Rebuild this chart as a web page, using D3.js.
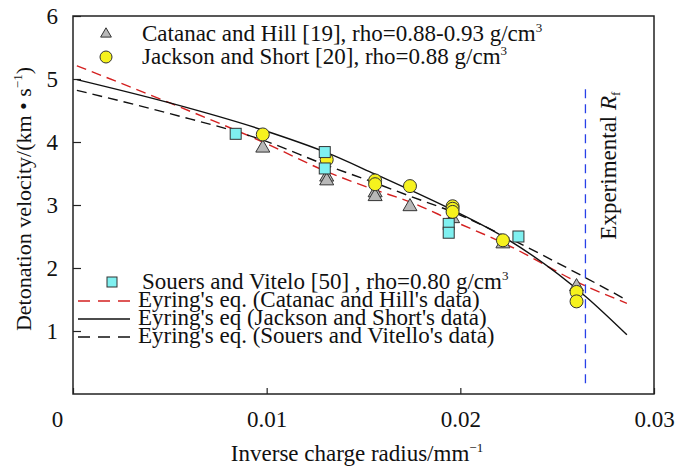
<!DOCTYPE html>
<html>
<head>
<meta charset="utf-8">
<script src="https://cdn.jsdelivr.net/npm/d3@7"></script>
<style>
body { margin: 0; background: #fff; }
svg text { font-family: "Liberation Serif", "DejaVu Serif", serif; fill: #111; }
</style>
</head>
<body>
<div id="chart"></div>
<script>
var w = 675;
var h = 466;
var serif = "'Liberation Serif', 'DejaVu Serif', serif";

// tick values
var xTicks = [0, 0.01, 0.02, 0.03];
var yTicks = [1, 2, 3, 4, 5, 6];

// measured points
var catanacX = [0.0098, 0.0131, 0.0131, 0.0156, 0.0156, 0.0174, 0.0196, 0.0222, 0.0260];
var catanacY = [3.92, 3.46, 3.40, 3.21, 3.15, 2.99, 2.80, 2.40, 1.72];
var jacksonX = [0.0098, 0.0131, 0.0156, 0.0156, 0.0174, 0.0196, 0.0196, 0.0196, 0.0222, 0.0260, 0.0260];
var jacksonY = [4.12, 3.72, 3.39, 3.33, 3.30, 2.98, 2.94, 2.89, 2.44, 1.62, 1.47];
var souersX = [0.0084, 0.0130, 0.0130, 0.0194, 0.0194, 0.0230];
var souersY = [4.13, 3.84, 3.58, 2.70, 2.56, 2.50];

// Eyring fits
var fitX = [0.0002, 0.005, 0.0098, 0.0131, 0.0156, 0.0174, 0.0196, 0.0222, 0.0265, 0.0286];
var fitCatanac = [5.21, 4.62, 4.00, 3.53, 3.24, 3.05, 2.75, 2.40, 1.71, 1.44];
var fitJackson = [4.99, 4.62, 4.19, 3.83, 3.49, 3.24, 2.92, 2.50, 1.54, 0.94];
var fitSouers = [4.82, 4.45, 4.03, 3.63, 3.35, 3.14, 2.89, 2.52, 1.84, 1.49];

var rfX = 0.02646;
var rfY = [0.17, 4.86];

var x = d3.scaleLinear().domain([0, 0.03]).range([73, 654]);
var y = d3.scaleLinear().domain([0, 6]).range([394, 16]);

var svg = d3.select("#chart").append("svg")
  .attr("width", w)
  .attr("height", h);

// axes with inward ticks
var gx = svg.append("g").attr("transform", "translate(0,394)")
  .call(d3.axisBottom(x).tickValues(xTicks).tickSize(-6).tickPadding(17)
    .tickFormat(function(d) { return d === 0 ? "0" : d3.format(".2f")(d); }));
gx.selectAll("text").attr("font-size", 23);
gx.selectAll("text").filter(function(d) { return d === 0; }).attr("dx", -16);

var gy = svg.append("g").attr("transform", "translate(73,0)")
  .call(d3.axisLeft(y).tickValues(yTicks).tickSize(-8).tickPadding(15).tickFormat(d3.format("d")));
gy.selectAll("text").attr("font-size", 23);

svg.selectAll(".domain").remove();
svg.selectAll(".tick line").attr("stroke", "#222").attr("stroke-width", 1.2);

// frame
svg.append("rect")
  .attr("x", x(0)).attr("y", y(6))
  .attr("width", x(0.03) - x(0)).attr("height", y(0) - y(6))
  .attr("fill", "none").attr("stroke", "#222").attr("stroke-width", 1.5);

// experimental Rf line
svg.append("line")
  .attr("x1", x(rfX)).attr("x2", x(rfX))
  .attr("y1", y(rfY[0])).attr("y2", y(rfY[1]))
  .attr("stroke", "#2840e8").attr("stroke-width", 1.3)
  .attr("stroke-dasharray", "9,6");

var rfLabel = svg.append("text")
  .attr("transform", "translate(616," + y(2.45) + ") rotate(-90)")
  .attr("font-size", 23);
rfLabel.append("tspan").text("Experimental ");
rfLabel.append("tspan").attr("font-style", "italic").text("R");
rfLabel.append("tspan").attr("font-size", 13).attr("dy", 4).text("f");

// fit curves
var fitLine = d3.line()
  .x(function(d) { return x(d[0]); })
  .y(function(d) { return y(d[1]); })
  .curve(d3.curveMonotoneX);

function pairs(xs, ys) {
  return xs.map(function(v, i) { return [v, ys[i]]; });
}

var fits = [
  {vals: fitCatanac, color: "#d42020", dash: "10,6"},
  {vals: fitJackson, color: "#111", dash: null},
  {vals: fitSouers, color: "#111", dash: "10,6"}
];

fits.forEach(function(f) {
  svg.append("path")
    .datum(pairs(fitX, f.vals))
    .attr("d", fitLine)
    .attr("fill", "none")
    .attr("stroke", f.color)
    .attr("stroke-width", 1.4)
    .attr("stroke-dasharray", f.dash);
});

// markers
var tri = d3.symbol().type(d3.symbolTriangle).size(85);
var triSmall = d3.symbol().type(d3.symbolTriangle).size(50);

svg.append("g").selectAll("path")
  .data(pairs(catanacX, catanacY))
  .enter().append("path")
  .attr("d", tri)
  .attr("transform", function(d) { return "translate(" + x(d[0]) + "," + (y(d[1]) + 1) + ")"; })
  .attr("fill", "#b8b8b8").attr("stroke", "#333").attr("stroke-width", 1);

svg.append("g").selectAll("circle")
  .data(pairs(jacksonX, jacksonY))
  .enter().append("circle")
  .attr("cx", function(d) { return x(d[0]); })
  .attr("cy", function(d) { return y(d[1]); })
  .attr("r", 6.5)
  .attr("fill", "#f6f21e").attr("stroke", "#333").attr("stroke-width", 1);

svg.append("g").selectAll("rect")
  .data(pairs(souersX, souersY))
  .enter().append("rect")
  .attr("x", function(d) { return x(d[0]) - 5.5; })
  .attr("y", function(d) { return y(d[1]) - 5.5; })
  .attr("width", 11).attr("height", 11)
  .attr("fill", "#7ff0f0").attr("stroke", "#333").attr("stroke-width", 1);

// legend, top
function addSup(t, main, sup) {
  t.append("tspan").text(main);
  t.append("tspan").attr("font-size", 13).attr("dy", -9).text(sup);
}

svg.append("path").attr("d", triSmall)
  .attr("transform", "translate(106,34)")
  .attr("fill", "#b8b8b8").attr("stroke", "#333");
var t1 = svg.append("text").attr("x", 142).attr("y", 41).attr("font-size", 23);
addSup(t1, "Catanac and Hill [19], rho=0.88-0.93 g/cm", "3");

svg.append("circle").attr("cx", 106).attr("cy", 57).attr("r", 6)
  .attr("fill", "#f6f21e").attr("stroke", "#333");
var t2 = svg.append("text").attr("x", 142).attr("y", 64).attr("font-size", 23);
addSup(t2, "Jackson and Short [20], rho=0.88 g/cm", "3");

// legend, bottom
svg.append("rect").attr("x", 107).attr("y", 277).attr("width", 10).attr("height", 10)
  .attr("fill", "#7ff0f0").attr("stroke", "#333");
var t3 = svg.append("text").attr("x", 142).attr("y", 289).attr("font-size", 23);
addSup(t3, "Souers and Vitelo [50] , rho=0.80 g/cm", "3");

var legLines = [
  {label: "Eyring's eq. (Catanac and Hill's data)", color: "#d42020", dash: "12,8", yy: 301},
  {label: "Eyring's eq (Jackson and Short's data)", color: "#111", dash: null, yy: 319},
  {label: "Eyring's eq. (Souers and Vitello's data)", color: "#111", dash: "12,8", yy: 337}
];
legLines.forEach(function(l) {
  svg.append("line").attr("x1", 78).attr("x2", 130).attr("y1", l.yy).attr("y2", l.yy)
    .attr("stroke", l.color).attr("stroke-width", 1.4).attr("stroke-dasharray", l.dash);
  svg.append("text").attr("x", 138).attr("y", l.yy + 6).attr("font-size", 23).text(l.label);
});

// axis titles
var xt = svg.append("text").attr("x", 357).attr("y", 461).attr("text-anchor", "middle").attr("font-size", 23);
xt.append("tspan").text("Inverse charge radius/mm");
xt.append("tspan").attr("font-size", 13).attr("dy", -9).text("\u22121");

var yt = svg.append("text")
  .attr("transform", "translate(31,199) rotate(-90)")
  .attr("text-anchor", "middle").attr("font-size", 22);
yt.append("tspan").text("Detonation velocity/(km \u2022 s");
yt.append("tspan").attr("font-size", 13).attr("dy", -9).text("\u22121");
yt.append("tspan").attr("dy", 9).text(")");

// make sure every label uses the serif face
svg.selectAll("text").style("font-family", serif).attr("fill", "#111");
</script>
</body>
</html>
